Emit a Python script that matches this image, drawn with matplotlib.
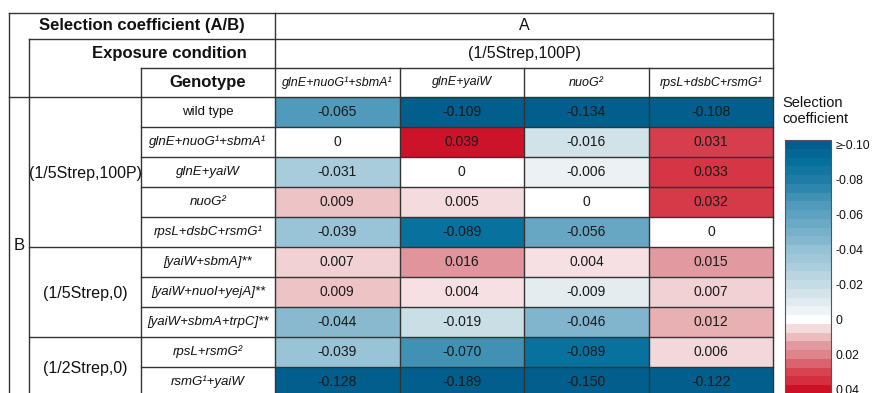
import numpy as np
import matplotlib
matplotlib.use("Agg")
import matplotlib.pyplot as plt
from matplotlib.colors import LinearSegmentedColormap, ListedColormap, BoundaryNorm, Normalize
from matplotlib.lines import Line2D

plt.rcParams['font.family'] = ['Liberation Sans', 'DejaVu Sans']

# ---- data -------------------------------------------------------------
col_genotypes = ["glnE+nuoG¹+sbmA¹", "glnE+yaiW", "nuoG²", "rpsL+dsbC+rsmG¹"]
row_genotypes = ["wild type", "glnE+nuoG¹+sbmA¹", "glnE+yaiW", "nuoG²",
                 "rpsL+dsbC+rsmG¹", "[yaiW+sbmA]**", "[yaiW+nuoI+yejA]**",
                 "[yaiW+sbmA+trpC]**", "rpsL+rsmG²", "rsmG¹+yaiW"]
row_conditions = ["(1/5Strep,100P)", "(1/5Strep,0)", "(1/2Strep,0)"]
rows_per_condition = [5, 3, 2]
col_condition = "(1/5Strep,100P)"

sel_coef = np.array([
    [-0.065, -0.109, -0.134, -0.108],
    [0.000, 0.039, -0.016, 0.031],
    [-0.031, 0.000, -0.006, 0.033],
    [0.009, 0.005, 0.000, 0.032],
    [-0.039, -0.089, -0.056, 0.000],
    [0.007, 0.016, 0.004, 0.015],
    [0.009, 0.004, -0.009, 0.007],
    [-0.044, -0.019, -0.046, 0.012],
    [-0.039, -0.070, -0.089, 0.006],
    [-0.128, -0.189, -0.150, -0.122],
])

cbar_ticks = [-0.10, -0.08, -0.06, -0.04, -0.02, 0.0, 0.02, 0.04]
cbar_ticklabels = ["≥-0.10", "-0.08", "-0.06", "-0.04", "-0.02", "0", "0.02", "0.04"]

# ---- colour scale -----------------------------------------------------
anchors = [
    (-0.10, "#025f8d"), (-0.09, "#06709d"), (-0.08, "#1f7ca6"),
    (-0.07, "#4292b5"), (-0.06, "#5ea2c1"), (-0.045, "#84b7ce"),
    (-0.04, "#97c2d5"), (-0.03, "#aacddc"), (-0.02, "#c6dce5"),
    (-0.015, "#d4e3ea"), (-0.01, "#e1eaee"), (-0.005, "#eff3f5"),
    (0.0, "#ffffff"), (0.004, "#f6e2e4"), (0.006, "#f3d8db"),
    (0.009, "#eec5c8"), (0.012, "#e9b0b4"), (0.015, "#e29aa0"),
    (0.02, "#df868d"), (0.025, "#db6470"), (0.03, "#d84352"),
    (0.035, "#d42f3f"), (0.04, "#cc1026"),
]
a_lo, a_hi = anchors[0][0], anchors[-1][0]
cmap_cont = LinearSegmentedColormap.from_list(
    "selcoef", [((v - a_lo) / (a_hi - a_lo), c) for v, c in anchors])
norm_cont = Normalize(a_lo, a_hi, clip=True)

# banded version for the colour bar: 0.005-wide bands centred on multiples of 0.005
step = 0.005
vmin, vmax = -0.1025, 0.0425
bounds = np.arange(vmin, vmax + step / 2, step)
centers = (bounds[:-1] + bounds[1:]) / 2
cmap_band = ListedColormap(cmap_cont(norm_cont(centers)))
norm_band = BoundaryNorm(bounds, cmap_band.N, clip=True)

# ---- figure & layout (pixels) -----------------------------------------
W, H = 872, 393
fig = plt.figure(figsize=(W / 100, H / 100), dpi=100)

x_left, x_cond, x_geno, x_data, x_right = 9.3, 28.7, 141.0, 275.0, 773.3
y_top, y_h1, y_h2, y_h3 = 12.5, 38.5, 68.0, 97.0
row_h = 29.95
n_rows, n_cols = sel_coef.shape
y_bottom = y_h3 + n_rows * row_h


def fx(x):
    return x / W


def fy(y):
    return 1 - y / H


# heatmap cells
ax_h = fig.add_axes([fx(x_data), fy(y_bottom), fx(x_right) - fx(x_data),
                     fy(y_h3) - fy(y_bottom)], zorder=1)
ax_h.pcolormesh(np.arange(n_cols + 1), np.arange(n_rows + 1), sel_coef,
                cmap=cmap_cont, norm=norm_cont)
ax_h.set_xlim(0, n_cols)
ax_h.set_ylim(n_rows, 0)
ax_h.axis("off")
for i in range(n_rows):
    for j in range(n_cols):
        v = sel_coef[i, j]
        txt = "0" if v == 0 else f"{v:.3f}"
        ax_h.text(j + 0.5, i + 0.5, txt, ha="center", va="center",
                  fontsize=10, color="#1a1a1a")

# table frame and labels
ax = fig.add_axes([0, 0, 1, 1], zorder=2)
ax.set_xlim(0, W)
ax.set_ylim(H, 0)
ax.axis("off")

lc, lw = "#333333", 1.0


def seg(x0, y0, x1, y1):
    ax.add_line(Line2D([x0, x1], [y0, y1], color=lc, lw=lw,
                       solid_capstyle="projecting"))


seg(x_left, y_top, x_right, y_top)
seg(x_left, y_top, x_left, y_bottom)
seg(x_right, y_top, x_right, y_bottom)
seg(x_data, y_top, x_data, y_bottom)
seg(x_cond, y_h1, x_right, y_h1)
seg(x_cond, y_h1, x_cond, y_bottom)
seg(x_geno, y_h2, x_right, y_h2)
seg(x_geno, y_h2, x_geno, y_bottom)
seg(x_left, y_h3, x_right, y_h3)
col_w = (x_right - x_data) / n_cols
for j in range(1, n_cols):
    seg(x_data + j * col_w, y_h2, x_data + j * col_w, y_bottom)
group_edges = np.cumsum(rows_per_condition)[:-1]
for i in range(1, n_rows):
    y = y_h3 + i * row_h
    seg(x_cond if i in group_edges else x_geno, y, x_right, y)

hdr = dict(ha="center", va="center", color="#111111")
ax.text((x_left + x_data) / 2, (y_top + y_h1) / 2, "Selection coefficient (A/B)",
        fontsize=12, fontweight="bold", **hdr)
ax.text(169, (y_h1 + y_h2) / 2, "Exposure condition",
        fontsize=12, fontweight="bold", **hdr)
ax.text((x_geno + x_data) / 2, (y_h2 + y_h3) / 2, "Genotype",
        fontsize=12, fontweight="bold", **hdr)
ax.text((x_data + x_right) / 2, (y_top + y_h1) / 2, "A", fontsize=11.5, **hdr)
ax.text((x_data + x_right) / 2, (y_h1 + y_h2) / 2, col_condition,
        fontsize=11.5, **hdr)
for j, g in enumerate(col_genotypes):
    ax.text(x_data + (j + 0.5) * col_w, (y_h2 + y_h3) / 2, g,
            fontsize=9, style="italic", **hdr)
for i, g in enumerate(row_genotypes):
    ax.text((x_geno + x_data) / 2, y_h3 + (i + 0.5) * row_h, g,
            fontsize=9.5, style="normal" if g == "wild type" else "italic", **hdr)
start = 0
for cond, n in zip(row_conditions, rows_per_condition):
    ax.text((x_cond + x_geno) / 2 + 0.5, y_h3 + (start + n / 2) * row_h + 2, cond,
            fontsize=11.5, **hdr)
    start += n
ax.text((x_left + x_cond) / 2, 246, "B", fontsize=12, **hdr)

# colour bar
cb_top, cb_left, cb_right = 140.0, 785.0, 831.0
px_per_unit = 1750.0
cb_bottom = cb_top + (vmax - vmin) * px_per_unit
cax = fig.add_axes([fx(cb_left), fy(cb_bottom), fx(cb_right) - fx(cb_left),
                    fy(cb_top) - fy(cb_bottom)], zorder=3)
sm = matplotlib.cm.ScalarMappable(norm=norm_band, cmap=cmap_band)
cb = fig.colorbar(sm, cax=cax, ticks=cbar_ticks)
cb.ax.set_yticklabels(cbar_ticklabels)
cb.ax.invert_yaxis()
cb.ax.minorticks_off()
cb.ax.tick_params(which="both", length=0, labelsize=8.8, pad=3, colors="#111111")
cb.outline.set_edgecolor("#555555")
cb.outline.set_linewidth(0.8)
ax.text(782, 96, "Selection\ncoefficient", ha="left", va="top",
        fontsize=10.5, linespacing=1.15, color="#111111")

fig.savefig("out.png", dpi=100)
